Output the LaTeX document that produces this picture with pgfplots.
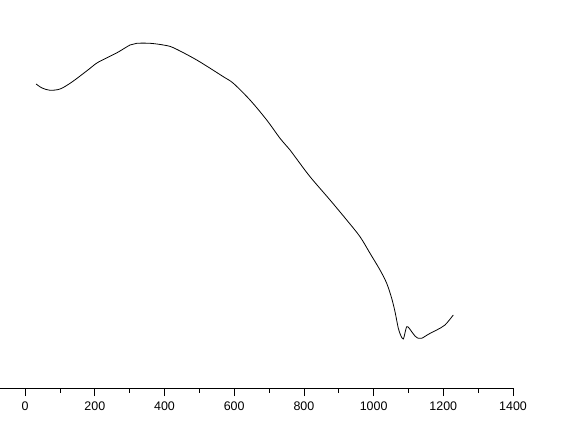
\documentclass[border=0pt]{standalone}
\usepackage{fontspec}
\setmainfont{Liberation Sans}
\usepackage{pgfplots}
\pgfplotsset{compat=1.18}

\begin{document}
\begin{tikzpicture}[x=1bp,y=1bp]
\begin{axis}[
  at={(0,0)}, anchor=south west,
  scale only axis,
  width=513bp, height=388bp,
  xmin=-72, xmax=1400,
  ymin=0, ymax=388,
  axis x line*=bottom,
  hide y axis,
  axis line style={line width=0.8pt, -},
  xtick={0,200,...,1400},
  minor x tick num=1,
  tick align=outside,
  major tick length=8bp,
  minor tick length=4.5bp,
  tick style={black, line width=0.8pt},
  xticklabel style={font=\fontsize{12.5}{14}\selectfont, yshift=-2bp},
  /pgf/number format/assume math mode=true,
  /pgf/number format/set thousands separator={},
  clip=false,
]
\addplot[black, line width=0.8pt, smooth, tension=0.5] coordinates {
  (31.6,304) (48.8,300) (71.7,297.7) (100.4,299) (129.1,304.7)
  (157.8,312) (186.5,319.7) (209.4,325.7) (263.9,335.3) (301.2,343)
  (320.4,344.7) (358.6,344.7) (396.7,343) (425.4,340.3) (492.5,328)
  (568.8,311.3) (597.5,304.7) (645.4,288) (693.3,268) (731.5,249.7)
  (760.2,238) (774.5,231.3) (817.6,211.3) (875,188) (922.8,168)
  (961,151.3) (989.7,134.7) (1018.4,118) (1037.6,104.7) (1051.9,89.7)
  (1061.4,76.3) (1070.9,59.7) (1078.6,52) (1085.2,49) (1090,55)
  (1094.9,61.3) (1101.5,60) (1109.3,56.3) (1118.8,52) (1128.3,49.7)
  (1138,49.7) (1157,53.7) (1181,58) (1204.8,63) (1228.6,73)
};
\end{axis}
\pgfresetboundingbox
\useasboundingbox (0,-37) rectangle (561,388);
\end{tikzpicture}
\end{document}
